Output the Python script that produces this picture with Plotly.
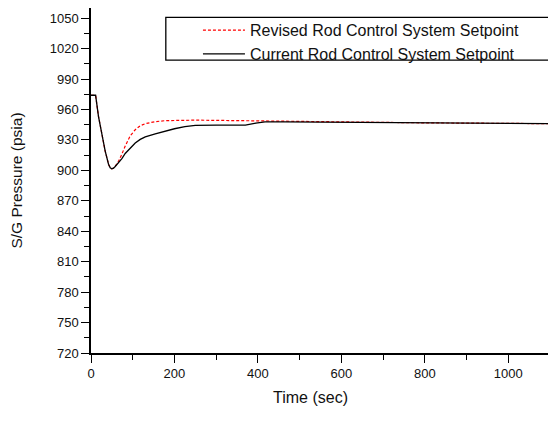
import plotly.graph_objects as go

# Time axis (sec) and steam generator pressure (psia)
time_revised = [0, 11, 18, 26, 34, 42, 46, 50, 54, 58, 66, 74, 82, 94, 106, 118,
                130, 154, 178, 250, 350, 465, 600, 800, 1000, 1100]
p_revised = [974, 974, 953, 934, 919, 906, 902.5, 901.5, 902.2, 904, 909, 916,
             924, 934, 940, 944, 946, 948, 949, 949.5, 949, 948, 947.3, 946.8,
             946.3, 946]

time_current = [0, 11, 18, 26, 34, 42, 46, 50, 54, 58, 66, 74, 82, 94, 106, 118,
                130, 154, 178, 200, 225, 250, 300, 370, 395, 417, 465, 600, 800,
                1000, 1100]
p_current = [974, 974, 953, 934, 919, 906, 902.5, 901.5, 902.2, 903.8, 907.4,
             911.5, 916.6, 922, 927, 930.5, 933, 936, 938.7, 941, 943, 944.3,
             944.6, 944.6, 946.5, 947.8, 947.8, 947.3, 946.8, 946.3, 946]

names = ["Revised Rod Control System Setpoint", "Current Rod Control System Setpoint"]

FONT = "Liberation Sans, Arial, sans-serif"

fig = go.Figure()
fig.add_trace(go.Scatter(x=time_revised, y=p_revised, mode="lines", name=names[0],
                         line=dict(color="#ff0000", width=1.2, dash="3px,2px")))
fig.add_trace(go.Scatter(x=time_current, y=p_current, mode="lines", name=names[1],
                         line=dict(color="#000000", width=1.3)))

axis_common = dict(
    showline=True, linecolor="black", linewidth=1.5, mirror=True,
    ticks="outside", ticklen=8, tickwidth=1.3, tickcolor="black",
    showgrid=False, zeroline=False, automargin=False,
    tickfont=dict(family=FONT, size=13, color="#111111"),
)

fig.update_xaxes(range=[0, 1100], dtick=200, tick0=0,
                 minor=dict(dtick=100, ticks="outside", ticklen=5, tickwidth=1.3, tickcolor="black"),
                 **axis_common)
fig.update_yaxes(range=[720, 1060], dtick=30, tick0=720,
                 minor=dict(dtick=15, ticks="outside", ticklen=5, tickwidth=1.3, tickcolor="black"),
                 title=dict(text="S/G Pressure (psia)", font=dict(family=FONT, size=15.5, color="#111111"), standoff=28),
                 **axis_common)

# x title sits a little left of the plot centre in the original
fig.add_annotation(text="Time (sec)", xref="paper", yref="paper", x=0.479, y=0,
                   xanchor="center", yanchor="middle", yshift=-44, showarrow=False,
                   font=dict(family=FONT, size=16, color="#111111"))

# legend frame
fig.add_shape(type="rect", xref="paper", yref="paper", x0=0.163, x1=0.998, y0=0.849, y1=0.973,
              line=dict(color="black", width=1.3), fillcolor="white", layer="below")

# page body has an 8px margin, so the figure is sized to fill the rest of the window
fig.update_layout(
    width=548, height=420,
    margin=dict(l=83, r=6, t=0, b=75),
    paper_bgcolor="white", plot_bgcolor="white",
    showlegend=True,
    legend=dict(x=0.233, y=0.985, xanchor="left", yanchor="top",
                bgcolor="rgba(0,0,0,0)", borderwidth=0, itemwidth=42,
                font=dict(family=FONT, size=16, color="#111111"), tracegroupgap=0),
)

fig.write_html("out.html")
